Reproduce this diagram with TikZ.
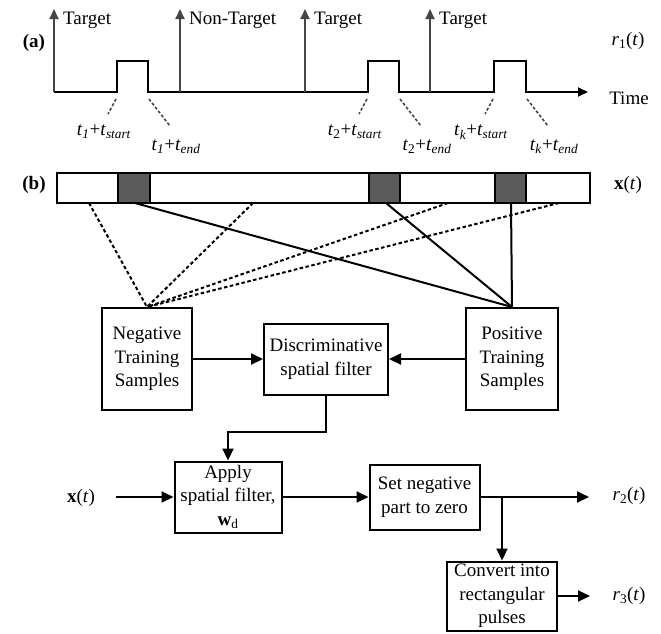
\documentclass[tikz,border=0pt]{standalone}
\usepackage{fontspec}
\setmainfont{Liberation Serif}
\usetikzlibrary{arrows.meta, positioning}

\definecolor{cellgray}{RGB}{90,90,90}
\definecolor{evgray}{RGB}{70,70,70}

\begin{document}
\begin{tikzpicture}[
    x=1pt, y=-1pt,
    font=\fontsize{19}{23.5}\selectfont,
    box/.style={draw, line width=2pt, align=center, inner sep=1.5pt},
    arrow/.style={-{Triangle[length=12pt, width=11pt]}, line width=2pt},
    sig/.style={line width=2pt},
    evt/.style={-{Triangle[length=10pt, width=9pt]}, line width=2pt, evgray},
    tick/.style={line width=1.6pt, evgray, dash pattern=on 3pt off 2pt},
    dashline/.style={line width=2pt, dash pattern=on 3.5pt off 2.5pt},
    cell/.style={draw, line width=2pt, fill=cellgray}
]
    \useasboundingbox (0,0) rectangle (661,633);

    % (a) trigger sequence and r_1(t)
    \node (lbla) at (34,43) {\textbf{(a)}};
    \draw[sig, -{Triangle[length=10pt, width=9pt]}] (54,92) -- (117,92) -- (117,61) -- (148,61) -- (148,92)
        -- (368,92) -- (368,61) -- (399,61) -- (399,92)
        -- (494,92) -- (494,61) -- (526,61) -- (526,92) -- (588,92);
    \foreach \ex/\txt [count=\i] in {54/Target, 180/Non-Target, 305/Target, 430/Target} {
        \draw[evt] (\ex,92) -- (\ex,9);
        \node[anchor=west, inner sep=1pt] (ev\i) at (\ex+8,20) {\txt};
    }
    \foreach \ps/\pe/\k in {117/148/\textit{1}, 368/399/2, 494/526/\textit{k}} {
        \draw[tick] (\ps-1,99) -- (\ps-9,114);
        \draw[tick] (\pe+1,99) -- (\pe+22,126);
        \node (ts\ps) at (\ps-13,132) {\textit{t}\textsubscript{\k}+\textit{t}\textsubscript{\textit{start}}};
        \node (te\pe) at (\pe+28,147) {\textit{t}\textsubscript{\k}+\textit{t}\textsubscript{\textit{end}}};
    }
    \node (r1) at (628,41) {\textit{r}\textsubscript{1}(\textit{t})};
    \node (time) at (629,98) {Time};

    % (b) EEG segment and the filter pipeline
    \node (lblb) at (34,185) {\textbf{(b)}};
    \draw[sig] (57,173) rectangle (590,203);
    \draw[cell] (118,173) rectangle (150,203);
    \draw[cell] (369,173) rectangle (400,203);
    \draw[cell] (495,173) rectangle (526,203);
    \node (xt) at (628,185) {\textbf{x}(\textit{t})};

    \coordinate (n1) at (89,203);
    \coordinate (n2) at (253,203);
    \coordinate (n3) at (448,203);
    \coordinate (n4) at (559,203);
    \coordinate (p1) at (135,203);
    \coordinate (p2) at (386,203);
    \coordinate (p3) at (511,203);

    \node[box, minimum width=90pt, minimum height=102pt] (neg) at (147,359) {Negative\\Training\\Samples};
    \node[box, minimum width=124pt, minimum height=71pt] (disc) at (326,359) {Discriminative\\spatial filter};
    \node[box, minimum width=92pt, minimum height=102pt] (pos) at (512,359) {Positive\\Training\\Samples};
    \node[box, minimum width=107pt, minimum height=71pt] (apply) at (228,497) {Apply\\spatial filter,\\\textbf{w}\textsubscript{d}};
    \node[box, minimum width=110pt, minimum height=65pt, right=86pt of apply] (zero) {Set negative\\part to zero};
    \node[box, minimum width=110pt, minimum height=69pt] (conv) at (502,596) {Convert into\\rectangular\\pulses};

    \foreach \c in {n1, n2, n3, n4}
        \draw[dashline] (\c) -- (neg.north);
    \foreach \c in {p1, p2, p3}
        \draw[sig] (\c) -- (pos.north);

    \draw[arrow] (neg) -- (disc);
    \draw[arrow] (pos) -- (disc);
    \draw[arrow] (disc.south) -- ++(0,36) -| (apply.north);

    \node (xin) at (81,498) {\textbf{x}(\textit{t})};
    \coordinate (xstart) at (116,497);
    \draw[arrow] (xstart) -- (apply);
    \draw[arrow] (apply) -- (zero);

    \node (r2) at (629,496) {\textit{r}\textsubscript{2}(\textit{t})};
    \coordinate (r2end) at (589,497);
    \coordinate (br) at (502,497);
    \draw[arrow] (zero) -- (r2end);
    \draw[arrow] (br) -- (conv.north);

    \node (r3) at (629,596) {\textit{r}\textsubscript{3}(\textit{t})};
    \coordinate (r3end) at (590,596);
    \draw[arrow] (conv) -- (r3end);
\end{tikzpicture}
\end{document}
